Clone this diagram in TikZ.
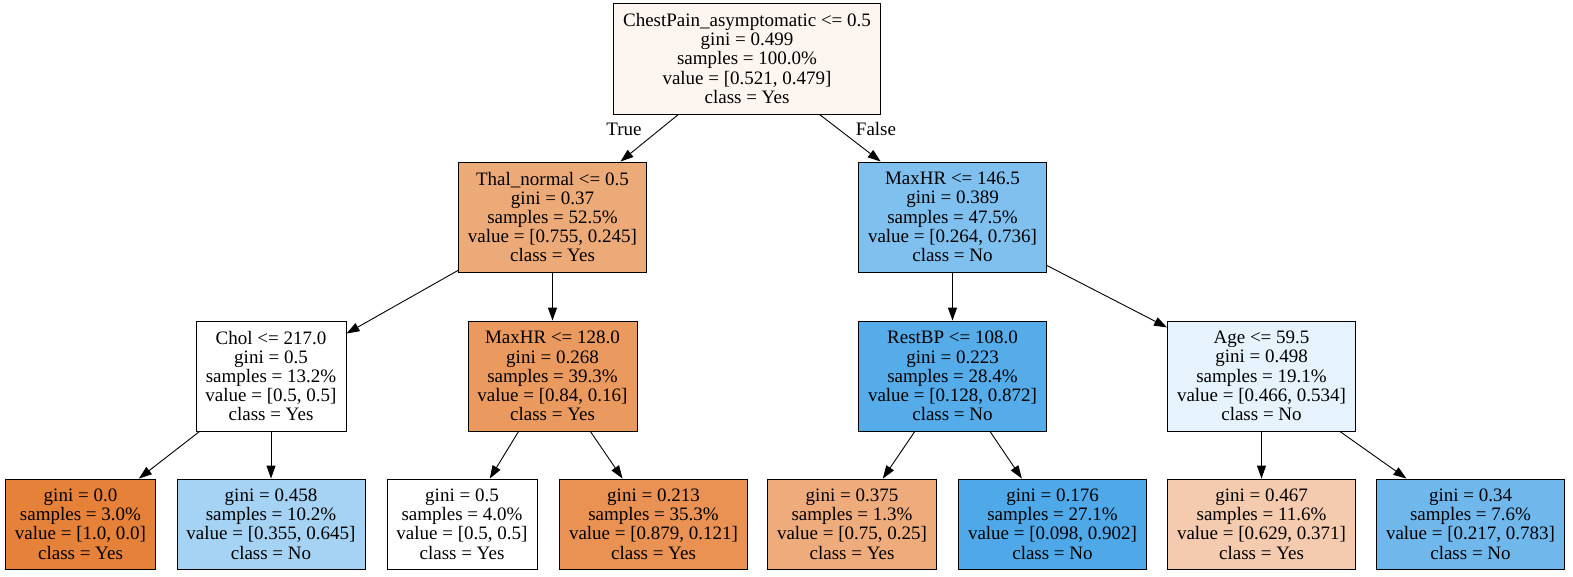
\documentclass[tikz,border=0pt]{standalone}
\usepackage{fontspec}
\setmainfont{Liberation Serif}
\usetikzlibrary{arrows.meta, positioning}
\definecolor{rootFill}{HTML}{FDF5EF}
\definecolor{thalFill}{HTML}{EDAA79}
\definecolor{hrFill}{HTML}{80C0EE}
\definecolor{hrlowFill}{HTML}{EA995F}
\definecolor{bpFill}{HTML}{56ABE9}
\definecolor{ageFill}{HTML}{E6F2FC}
\definecolor{yesDark}{HTML}{E58139}
\definecolor{noLight}{HTML}{A6D3F3}
\definecolor{yesMid}{HTML}{E99254}
\definecolor{yesSoft}{HTML}{EEAB7B}
\definecolor{noDark}{HTML}{4FA8E8}
\definecolor{yesPale}{HTML}{F4CBAE}
\definecolor{noMid}{HTML}{70B8EC}

\begin{document}
\begin{tikzpicture}[
    x=1pt, y=-1pt,
    box/.style={rectangle, draw=black, line width=0.9pt, fill=#1,
                minimum height=110pt, inner xsep=9.5pt, align=center,
                font=\fontsize{19}{19.2}\selectfont},
    leaf/.style={box=#1, minimum height=90pt},
    edge/.style={line width=0.9pt, -{Triangle[length=13pt, width=9pt]}},
    lbl/.style={font=\fontsize{19}{19.2}\selectfont},
  ]
    \useasboundingbox (0,0) rectangle (1573,577);

    % root
    \node[box=rootFill, minimum height=111pt] (root) at (747,58.5) {%
      ChestPain\_asymptomatic <= 0.5\\ gini = 0.499\\ samples = 100.0\%\\
      value = [0.521, 0.479]\\ class = Yes};

    % level 1
    \node[box=thalFill] (thal) at (552.5,217) {%
      Thal\_normal <= 0.5\\ gini = 0.37\\ samples = 52.5\%\\
      value = [0.755, 0.245]\\ class = Yes};
    \node[box=hrFill] (hr) at (952.5,217) {%
      MaxHR <= 146.5\\ gini = 0.389\\ samples = 47.5\%\\
      value = [0.264, 0.736]\\ class = No};

    % level 2
    \node[box=white] (chol) at (271,376) {%
      Chol <= 217.0\\ gini = 0.5\\ samples = 13.2\%\\
      value = [0.5, 0.5]\\ class = Yes};
    \node[box=hrlowFill] (hrlow) at (552.5,376) {%
      MaxHR <= 128.0\\ gini = 0.268\\ samples = 39.3\%\\
      value = [0.84, 0.16]\\ class = Yes};
    \node[box=bpFill] (bp) at (952.5,376) {%
      RestBP <= 108.0\\ gini = 0.223\\ samples = 28.4\%\\
      value = [0.128, 0.872]\\ class = No};
    \node[box=ageFill] (age) at (1261.5,376) {%
      Age <= 59.5\\ gini = 0.498\\ samples = 19.1\%\\
      value = [0.466, 0.534]\\ class = No};

    % leaves
    \node[leaf=yesDark] (l1) at (80.5,524) {%
      gini = 0.0\\ samples = 3.0\%\\ value = [1.0, 0.0]\\ class = Yes};
    \node[leaf=noLight] (l2) at (271,524) {%
      gini = 0.458\\ samples = 10.2\%\\ value = [0.355, 0.645]\\ class = No};
    \node[leaf=white] (l3) at (462,524) {%
      gini = 0.5\\ samples = 4.0\%\\ value = [0.5, 0.5]\\ class = Yes};
    \node[leaf=yesMid] (l4) at (653.5,524) {%
      gini = 0.213\\ samples = 35.3\%\\ value = [0.879, 0.121]\\ class = Yes};
    \node[leaf=yesSoft] (l5) at (852,524) {%
      gini = 0.375\\ samples = 1.3\%\\ value = [0.75, 0.25]\\ class = Yes};
    \node[leaf=noDark] (l6) at (1052.5,524) {%
      gini = 0.176\\ samples = 27.1\%\\ value = [0.098, 0.902]\\ class = No};
    \node[leaf=yesPale] (l7) at (1261.5,524) {%
      gini = 0.467\\ samples = 11.6\%\\ value = [0.629, 0.371]\\ class = Yes};
    \node[leaf=noMid] (l8) at (1470.5,524) {%
      gini = 0.34\\ samples = 7.6\%\\ value = [0.217, 0.783]\\ class = No};

    % edges
    \draw[edge] (root) -- (thal);
    \draw[edge] (root) -- (hr);
    \draw[edge] (thal) -- (chol);
    \draw[edge] (thal) -- (hrlow);
    \draw[edge] (hr) -- (bp);
    \draw[edge] (hr) -- (age);
    \draw[edge] (chol) -- (l1);
    \draw[edge] (chol) -- (l2);
    \draw[edge] (hrlow) -- (l3);
    \draw[edge] (hrlow) -- (l4);
    \draw[edge] (bp) -- (l5);
    \draw[edge] (bp) -- (l6);
    \draw[edge] (age) -- (l7);
    \draw[edge] (age) -- (l8);

    \node[lbl] (lTrue) at (624,129) {True};
    \node[lbl] (lFalse) at (876,129) {False};
  \end{tikzpicture}
\end{document}
